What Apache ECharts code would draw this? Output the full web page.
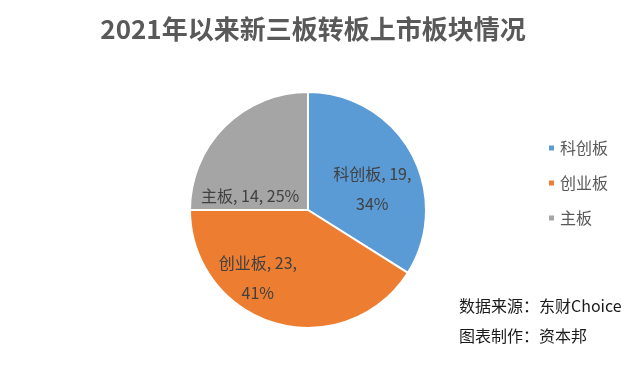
<!DOCTYPE html>
<html><head><meta charset="utf-8">
<script src="https://cdn.jsdelivr.net/npm/echarts@6/dist/echarts.min.js"></script>
<style>html,body{margin:0;padding:0;background:#fff}#c{width:640px;height:371px}</style>
</head><body><div id="c"></div>
<script>
const titleText = '2021年以来新三板转板上市板块情况';
const categories = ['科创板', '创业板', '主板'];
const values = [19, 23, 14];
const percents = ['34%', '41%', '25%'];
const colors = ['#5B9BD5', '#ED7D31', '#A5A5A5'];
const sourceLines = ['数据来源：东财Choice', '图表制作：资本邦'];

const labelOffsets = [[10, 9], [-33, 8], [-14, 30]];
const labelFormats = [
  (n, v, p) => n + ', ' + v + ',\n' + p,
  (n, v, p) => n + ', ' + v + ',\n' + p,
  (n, v, p) => n + ', ' + v + ', ' + p
];

const chart = echarts.init(document.getElementById('c'), null, {renderer: 'canvas'});
const font = '"Noto Sans CJK SC", "Noto Sans", sans-serif';
chart.setOption({
  animation: false,
  title: {
    text: titleText, left: 308, top: 11, textAlign: 'center',
    textStyle: {fontFamily: font, fontSize: 26, fontWeight: 'bold', color: '#595959'}
  },
  legend: {
    orient: 'vertical', left: 542, top: 135, itemWidth: 7, itemHeight: 7, itemGap: 19,
    icon: 'rect',
    textStyle: {fontFamily: font, fontSize: 16, color: '#595959'},
    data: categories
  },
  graphic: sourceLines.map((t, i) => ({
    type: 'text', left: 459, top: 298 + i * 30,
    style: {text: t, font: '16px ' + font, fill: '#1a1a1a'}
  })),
  series: [{
    type: 'pie', center: [308, 210], radius: 118, startAngle: 90, clockwise: true,
    itemStyle: {borderColor: '#fff', borderWidth: 2},
    label: {position: 'inside', fontFamily: font, fontSize: 16, color: '#404040', lineHeight: 30},
    labelLine: {show: false},
    data: categories.map((n, i) => ({
      name: n, value: values[i],
      itemStyle: {color: colors[i]},
      label: {formatter: labelFormats[i](n, values[i], percents[i]), offset: labelOffsets[i]}
    }))
  }]
});
</script></body></html>
